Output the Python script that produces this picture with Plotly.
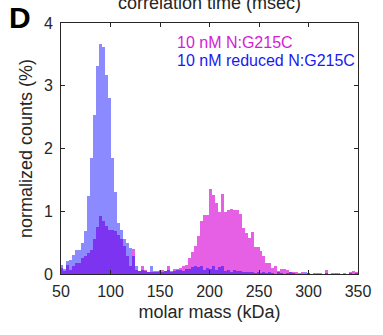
import plotly.graph_objects as go

# bin centres (kDa)
bin_centers = list(range(51, 349, 3))

# 10 nM reduced N:G215C (blue), normalized counts (%)
reduced = [0.14, 0.08, 0.20, 0.22, 0.30, 0.38, 0.38, 0.50, 0.68, 1.25,
           1.85, 2.53, 3.31, 3.67, 3.62, 3.17, 2.80, 1.85, 1.31, 0.82,
           0.70, 0.56, 0.50, 0.42, 0.28, 0.12, 0.05, 0.06, 0.04, 0.03,
           0.12, 0.04, 0.03, 0.06, 0.02, 0.05, 0.06, 0.03, 0.04, 0.06,
           0.07, 0.05, 0.08, 0.08, 0.11, 0.12, 0.11, 0.12, 0.07, 0.10,
           0.08, 0.12, 0.06, 0.11, 0.13, 0.05, 0.06, 0.03, 0.06, 0.04,
           0.05, 0.02, 0.03, 0.02, 0.03, 0.01, 0.02, 0.01, 0.02, 0.01,
           0.02, 0.01, 0.00, 0.02, 0.01, 0.00, 0.01, 0.02, 0.01, 0.00,
           0.01, 0.00, 0.02, 0.01, 0.00, 0.01, 0.00, 0.01, 0.00, 0.01,
           0.00, 0.01, 0.00, 0.01, 0.00, 0.01, 0.00, 0.01, 0.00, 0.01]

# 10 nM N:G215C (magenta), normalized counts (%)
oxidized = [0.10, 0.04, 0.14, 0.06, 0.12, 0.17, 0.17, 0.25, 0.28, 0.33,
            0.38, 0.55, 0.75, 0.93, 0.85, 0.76, 0.70, 0.70, 0.68, 0.62,
            0.55, 0.45, 0.28, 0.12, 0.40, 0.06, 0.04, 0.12, 0.06, 0.03,
            0.02, 0.03, 0.05, 0.04, 0.06, 0.04, 0.12, 0.05, 0.08, 0.08,
            0.10, 0.12, 0.15, 0.25, 0.35, 0.45, 0.60, 0.85, 0.94, 0.94,
            1.35, 1.26, 1.13, 0.99, 1.27, 0.99, 1.02, 1.03, 1.02, 1.02,
            0.96, 0.73, 0.65, 0.57, 0.67, 0.43, 0.43, 0.36, 0.28, 0.18,
            0.17, 0.10, 0.13, 0.05, 0.08, 0.08, 0.06, 0.03, 0.02, 0.02,
            0.00, 0.02, 0.00, 0.01, 0.00, 0.00, 0.01, 0.00, 0.00, 0.06,
            0.00, 0.00, 0.01, 0.00, 0.00, 0.00, 0.00, 0.03, 0.05, 0.02]

x_ticks = [50, 100, 150, 200, 250, 300, 350]
y_ticks = [0, 1, 2, 3, 4]
labels = ["10 nM N:G215C", "10 nM reduced N:G215C"]
label_colors = ["#D41CD4", "#1A1AF0"]

FONT = "Liberation Sans, Arial, sans-serif"
AX = "#262626"

fig = go.Figure()
fig.add_trace(go.Bar(x=bin_centers, y=oxidized, width=3,
                     marker=dict(color="rgb(220,30,220)", line=dict(width=0)),
                     opacity=0.7, name=labels[0]))
fig.add_trace(go.Bar(x=bin_centers, y=reduced, width=3,
                     marker=dict(color="rgb(0,0,255)", line=dict(width=0)),
                     opacity=0.45, name=labels[1]))

axis_common = dict(showgrid=False, zeroline=False, showline=True, linecolor=AX,
                   linewidth=1, mirror="ticks", ticks="inside", ticklen=4,
                   tickcolor=AX, tickwidth=1,
                   tickfont=dict(family=FONT, size=16, color=AX))

fig.update_layout(
    width=383, height=335,
    margin=dict(l=61, r=15, t=23, b=61),
    paper_bgcolor="white", plot_bgcolor="white",
    barmode="overlay", bargap=0, showlegend=False,
    font=dict(family=FONT, color=AX),
    xaxis=dict(range=[50, 350], tickvals=x_ticks, ticklabelstandoff=3,
               title=dict(text="molar mass (kDa)", font=dict(size=18, family=FONT, color=AX), standoff=6),
               **axis_common),
    yaxis=dict(range=[0, 4], tickvals=y_ticks, ticklabelstandoff=4,
               title=dict(text="normalized counts (%)", font=dict(size=18, family=FONT, color=AX), standoff=6),
               **axis_common),
)

for i, (txt, col) in enumerate(zip(labels, label_colors)):
    fig.add_annotation(text=txt, xref="paper", yref="paper", x=(179 - 61) / 307,
                       y=(274 - 42 - 19 * i) / 251, xanchor="left", yanchor="middle",
                       showarrow=False, font=dict(family=FONT, size=16, color=col))

fig.add_annotation(text="<b>D</b>", xref="paper", yref="paper", x=(5 - 61) / 307,
                   y=(274 - 17) / 251, xanchor="left", yanchor="middle",
                   showarrow=False, font=dict(family=FONT, size=30, color="black"))
fig.add_annotation(text="correlation time (msec)", xref="paper", yref="paper",
                   x=(214 - 61) / 307, y=(274 - 3) / 251, xanchor="center", yanchor="middle",
                   showarrow=False, font=dict(family=FONT, size=18, color=AX))

fig.write_html("out.html")
